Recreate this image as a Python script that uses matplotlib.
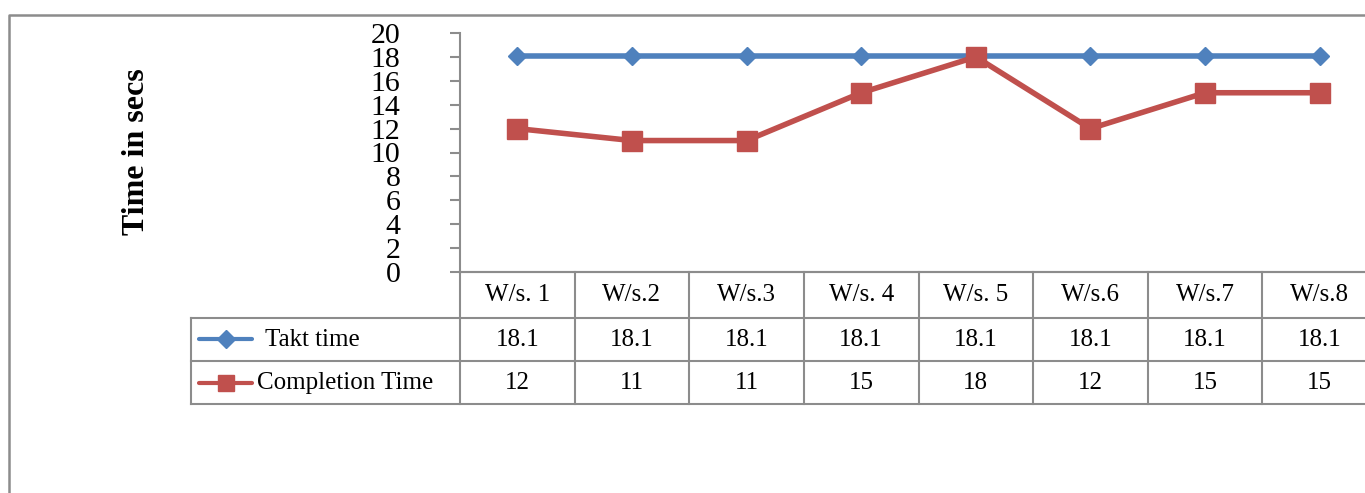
import matplotlib.pyplot as plt
from matplotlib.lines import Line2D
from matplotlib import transforms

plt.rcParams['font.family'] = ['Liberation Serif', 'DejaVu Serif']

stations = ['W/s. 1', 'W/s.2', 'W/s.3', 'W/s. 4', 'W/s. 5', 'W/s.6', 'W/s.7', 'W/s.8']
takt_time = [18.1, 18.1, 18.1, 18.1, 18.1, 18.1, 18.1, 18.1]
completion_time = [12, 11, 11, 15, 18, 12, 15, 15]

BLUE = '#4F81BD'
RED = '#C0504D'
GRID = '#8C8C8C'

W, H = 1365, 493
fig = plt.figure(figsize=(W / 100, H / 100), dpi=100)

# layout helpers in pixel units
def fx(px):
    return px / W

def fy(py):
    return 1 - py / H

ax_left, ax_right, ax_top, ax_bot = 460, 1377, 33, 272
ax = fig.add_axes([fx(ax_left), fy(ax_bot), fx(ax_right - ax_left),
                   (ax_bot - ax_top) / H])

x = list(range(len(stations)))
ax.plot(x, takt_time, color=BLUE, lw=4, marker='D', ms=9.5, mew=1,
        mfc=BLUE, mec=BLUE, clip_on=False, zorder=3)
ax.plot(x, completion_time, color=RED, lw=4, marker='s', ms=14, mew=1,
        mfc=RED, mec=RED, clip_on=False, zorder=3)

ax.set_xlim(-0.5, len(stations) - 0.5)
ax.set_ylim(0, 20)
ax.set_yticks(range(0, 21, 2))
ax.set_xticks([])
ax.tick_params(axis='y', direction='out', length=7, width=1.5, color=GRID,
               pad=36, labelsize=21.5)
for side in ['top', 'right']:
    ax.spines[side].set_visible(False)
ax.spines['left'].set_color(GRID)
ax.spines['left'].set_linewidth(1.5)
ax.spines['bottom'].set_color(GRID)
ax.spines['bottom'].set_linewidth(1.5)

fig.text(fx(137), fy(152), 'Time in secs', rotation=90, ha='center',
         va='center', fontsize=23, fontweight='bold')

# data table under the axis
def ay(py):
    return (ax_bot - py) / (ax_bot - ax_top)

rows_px = [272, 318, 361, 404]
blend = transforms.blended_transform_factory(ax.transData, ax.transAxes)
line_kw = dict(color=GRID, lw=1.5, clip_on=False)

leg_left = (191 - ax_left) / (ax_right - ax_left)
ax.add_line(Line2D([0, 1.2], [ay(rows_px[0])] * 2, transform=ax.transAxes, **line_kw))
for py in rows_px[1:]:
    ax.add_line(Line2D([leg_left, 1.2], [ay(py)] * 2, transform=ax.transAxes, **line_kw))
ax.add_line(Line2D([leg_left, leg_left], [ay(rows_px[1]), ay(rows_px[3])],
                   transform=ax.transAxes, **line_kw))
for i in range(len(stations) + 1):
    ax.add_line(Line2D([i - 0.5, i - 0.5], [ay(rows_px[0]), ay(rows_px[3])],
                       transform=blend, **line_kw))

cell_fs = 18
for i, name in enumerate(stations):
    ax.text(i, ay(295), name, transform=blend, ha='center', va='center',
            fontsize=cell_fs, clip_on=False)
    ax.text(i, ay(340), f'{takt_time[i]:g}', transform=blend, ha='center',
            va='center', fontsize=cell_fs, clip_on=False)
    ax.text(i, ay(383), f'{completion_time[i]:g}', transform=blend,
            ha='center', va='center', fontsize=cell_fs, clip_on=False)

# legend keys in the first column
fig.add_artist(Line2D([fx(199), fx(252)], [fy(339)] * 2, color=BLUE, lw=3,
                      solid_capstyle='round'))
fig.add_artist(Line2D([fx(226)], [fy(339)], color=BLUE, marker='D', ms=9.5,
                      mec=BLUE))
fig.text(fx(265), fy(340), 'Takt time', ha='left', va='center', fontsize=cell_fs)
fig.add_artist(Line2D([fx(199), fx(252)], [fy(383)] * 2, color=RED, lw=3,
                      solid_capstyle='round'))
fig.add_artist(Line2D([fx(226)], [fy(383)], color=RED, marker='s', ms=12,
                      mec=RED))
fig.text(fx(257), fy(383), 'Completion Time', ha='left', va='center',
         fontsize=cell_fs)

# outer chart border
fig.add_artist(Line2D([fx(9), fx(9), 1.0], [0, fy(15), fy(15)],
                      color=GRID, lw=1.8))

fig.savefig('out.png', dpi=100)
